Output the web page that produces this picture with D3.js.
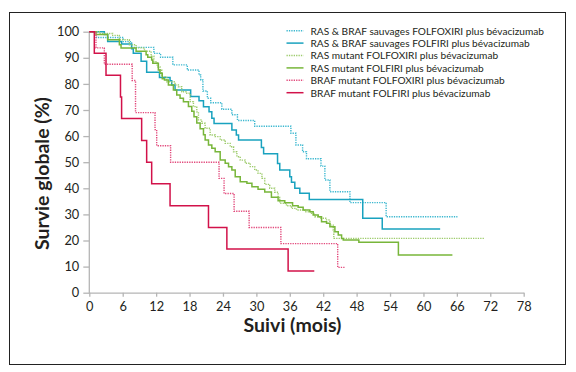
<!DOCTYPE html>
<html><head><meta charset="utf-8">
<script src="https://cdn.jsdelivr.net/npm/d3@7"></script>
<style>
html,body{margin:0;padding:0;background:#fff;}
svg{display:block;font-family:Lato,"Open Sans",sans-serif;}
</style></head>
<body><svg id="c" width="576" height="372"></svg>
<script>
// ---- data ----
const seriesNames = [
  "RAS & BRAF sauvages FOLFOXIRI plus bévacizumab",
  "RAS & BRAF sauvages FOLFIRI plus bévacizumab",
  "RAS mutant FOLFOXIRI plus bévacizumab",
  "RAS mutant FOLFIRI plus bévacizumab",
  "BRAF mutant FOLFOXIRI plus bévacizumab",
  "BRAF mutant FOLFIRI plus bévacizumab"
];
const xTicks = [0,6,12,18,24,30,36,42,48,54,60,66,72,78];
const yTicks = [0,10,20,30,40,50,60,70,80,90,100];
const xLabel = "Suivi (mois)";
const yLabel = "Survie globale (%)";

const wtFolfoxiri = [[0,100],[1.3,97.8],[6.1,96.2],[7.6,94],[11.6,91.7],[12.8,90.2],[15,87.3],[17.6,85.3],[19.7,83.4],[20.0,81.5],[20.4,77.3],[21.2,74.5],[21.8,72.8],[23.8,70.3],[25.6,68.2],[26.6,66],[29.7,63.8],[36.2,61.1],[37.1,56.6],[38.3,54],[39,51.3],[41.6,48.5],[42.3,43.2],[43.2,38.7],[46.8,34.5],[53.3,29.1],[66.1,29.1]];
const wtFolfiri = [[0,100],[2.7,98.9],[3.3,96.2],[5.8,95.3],[7.6,93.5],[7.9,91.7],[9.3,88.7],[10.3,84.5],[12.6,82.5],[14.5,81.2],[14.8,79.6],[15.4,77.7],[18.2,75.2],[19.7,73.5],[20.5,71.2],[21.5,69.3],[22,66.8],[22.4,64.8],[25.6,62.3],[26.4,60.4],[26.8,58.5],[30.9,55.6],[31.3,53.2],[33.8,49.5],[34.2,47],[36,44.4],[36.3,42.3],[36.9,40],[37.8,38.1],[39.5,35.7],[49.1,28.5],[52.6,24.4],[63,24.4]];
const rasFolfoxiri = [[0,100],[1.8,99.3],[4.2,98.6],[5.4,96.9],[7.2,95],[8.4,93.8],[9.9,92.5],[11.1,90.6],[11.6,88.5],[12.2,86.5],[12.7,85.3],[13,82.8],[13.9,80.8],[15.4,79.6],[16,78.9],[16.6,77],[17.5,76.4],[18.1,73.2],[18.7,71.3],[19.3,69.3],[19.6,66.2],[20.2,64.9],[20.8,63],[21.7,60.4],[22.6,59.8],[23.5,58.5],[24.4,57.2],[25.3,55.9],[25.9,54],[26.5,52.1],[27.1,50.8],[28,49.6],[28.9,48.3],[29.7,47],[30.3,45.7],[31,43.8],[31.5,41.5],[32.4,40],[33.3,38.5],[33.9,36.5],[34.2,34.3],[35.4,33.3],[36.3,32.3],[37.2,31.7],[38.7,31],[39.9,30.4],[40.5,29.1],[41.4,28.5],[42.6,27.9],[43.2,25.9],[43.8,24],[43.9,20.8],[71,20.8]];
const rasFolfiri = [[0,100],[1.2,98.9],[3.3,96.9],[5.4,95],[5.7,93.8],[8.4,92.5],[10.2,91.2],[10.5,90.2],[11.2,89.2],[11.4,87.9],[12.4,85.3],[12.7,84.1],[13.1,82],[13.5,81.5],[14.2,79.6],[15.1,77.7],[15.7,75.7],[16.3,74.5],[16.9,73.2],[17.8,71.3],[18.4,69.5],[18.8,67.4],[19.3,65],[19.9,62.8],[20.5,60.5],[20.8,58.5],[21.4,56.6],[22,55.3],[22.6,54],[23.5,50.8],[24.4,49.6],[25,48.3],[25.6,47],[26.2,44.4],[27.1,42.5],[28.3,41.9],[29.2,40.6],[30.3,39.6],[31.5,38.6],[32.7,36.6],[33.9,35.2],[35.1,34.5],[36.5,33.3],[37.5,32.7],[38.4,31.7],[39.6,31],[40.2,29.8],[41.1,29.1],[41.7,27.2],[42.6,26.6],[43.2,25.3],[44.1,23.4],[44.7,22.1],[45.3,20.8],[45.6,20.2],[48.4,19.3],[55.5,14.4],[65.2,14.4]];
const brafFolfoxiri = [[0,100],[1.2,93.8],[2.7,87.5],[7.7,81.3],[8.3,69],[11.8,62.5],[12.1,56.3],[14.6,50],[23.3,43.8],[24.2,38],[26,31.2],[28.7,25],[34.4,18.8],[44.6,9.7],[45.9,9.7]];
const brafFolfiri = [[0,100],[0.9,91.7],[3.0,83.3],[5.6,75],[5.8,66.7],[9.4,58.3],[10.3,50],[11.2,41.7],[14.5,33.3],[21.4,25],[24.7,16.7],[35.7,8.3],[40.4,8.3]];

const seriesData = [wtFolfoxiri, wtFolfiri, rasFolfoxiri, rasFolfiri, brafFolfoxiri, brafFolfiri];
const seriesColors = ["#3cb8d0","#19a2bf","#9dcb6b","#78b63a","#e24a7c","#d2124a"];
const seriesDotted = [true,false,true,false,true,false];

// font size that makes a text element reach a target width
function fitSize(node, target){
  const fs = parseFloat(node.style.fontSize);
  const w = node.getComputedTextLength();
  return w > 0 ? fs*target/w : fs;
}

// ---- chart ----
const svg = d3.select("#c");
svg.append("rect").attr("x",9.5).attr("y",12.5).attr("width",556).attr("height",352)
  .attr("fill","none").attr("stroke","#222").attr("stroke-width",1);

const x = d3.scaleLinear().domain([0,78]).range([89.3,523.7]);
const y = d3.scaleLinear().domain([0,100]).range([292.7,31.7]);

const axisColor = "#b5b5b5";
const gy = svg.append("g").attr("transform","translate(89.3,0)")
  .call(d3.axisLeft(y).tickValues(yTicks).tickSize(6).tickSizeOuter(0).tickPadding(4));
const gx = svg.append("g").attr("transform","translate(0,292.7)")
  .call(d3.axisBottom(x).tickValues(xTicks).tickSize(4).tickSizeOuter(0).tickPadding(5));
[gx,gy].forEach(g=>{
  g.selectAll("path,line").attr("stroke",axisColor).attr("stroke-width",1.3);
  g.selectAll("text").attr("fill","#231f20").style("font-family","Lato, sans-serif").style("font-size","12.8px");
});
gy.select(".domain").attr("d","M0,"+(y(0)+1)+"V"+y(100));

const line = d3.line().x(d=>x(d[0])).y(d=>y(d[1])).curve(d3.curveStepAfter);
seriesData.forEach((d,i)=>{
  svg.append("path").datum(d).attr("d",line).attr("fill","none")
    .attr("stroke",seriesColors[i]).attr("stroke-width",seriesDotted[i]?1.4:1.5)
    .attr("stroke-dasharray",seriesDotted[i]?"1.3,1.1":null);
});

// legend
const lg = svg.append("g");
const texts = [];
seriesNames.forEach((n,i)=>{
  const yy = 30.7 + i*12.4;
  lg.append("line").attr("x1",286.5).attr("x2",303.5).attr("y1",yy).attr("y2",yy)
    .attr("stroke",seriesColors[i]).attr("stroke-width",1.5)
    .attr("stroke-dasharray",seriesDotted[i]?"1.3,1.1":null);
  texts.push(lg.append("text").attr("x",310.5).attr("y",yy+3.8).text(n)
    .attr("fill","#231f20").style("font-size","11px"));
});
const lfs = Math.min(fitSize(texts[0].node(), 234), 11.6);
texts.forEach(t=>t.style("font-size", lfs.toFixed(2)+"px"));

// axis titles
const xt = svg.append("text").attr("x",292.5).attr("y",331.5).attr("text-anchor","middle")
  .style("font-weight","bold").style("font-size","17px").attr("fill","#231f20").text(xLabel);
xt.style("font-size", fitSize(xt.node(), 98).toFixed(2)+"px");
const yt = svg.append("text").attr("transform","translate(49,173.5) rotate(-90)").attr("text-anchor","middle")
  .style("font-weight","bold").style("font-size","17px").attr("fill","#231f20").text(yLabel);
yt.style("font-size", fitSize(yt.node(), 153).toFixed(2)+"px");
</script></body></html>
